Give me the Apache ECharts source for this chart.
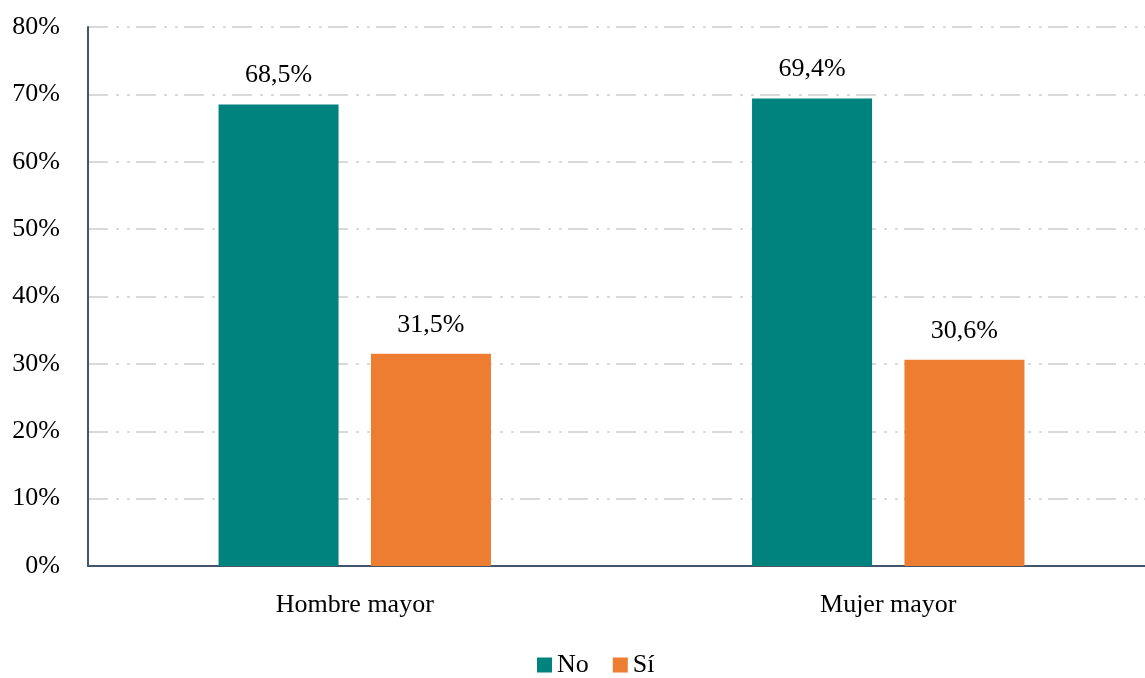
<!DOCTYPE html>
<html>
<head>
<meta charset="utf-8">
<script src="https://cdn.jsdelivr.net/npm/echarts@6/dist/echarts.min.js"></script>
<style>
  html, body { margin: 0; padding: 0; background: #fff; }
  #chart { width: 1145px; height: 678px; }
</style>
</head>
<body>
<div id="chart"></div>
<script>
const categories = ['Hombre mayor', 'Mujer mayor'];
const seriesNames = ['No', 'Sí'];
const noValues = [68.5, 69.4];
const siValues = [31.5, 30.6];
const yTicks = [0, 10, 20, 30, 40, 50, 60, 70, 80];

const font = '"Liberation Serif", "DejaVu Serif", serif';
const fs = 26;
const fmt = v => v.toFixed(1).replace('.', ',') + '%';

let chart = echarts.init(document.getElementById('chart'));
let option = {
  animation: false,
  textStyle: { fontFamily: font },
  color: ['#00827f', '#ed7d31'],
  grid: { left: 88, width: 1067, top: 27, bottom: 112, outerBoundsMode: 'none', containLabel: false },
  legend: {
    top: 647,
    left: 532,
    itemWidth: 15,
    itemHeight: 15,
    itemGap: 24,
    icon: 'rect',
    textStyle: { fontFamily: font, fontSize: fs, color: '#000' },
    data: seriesNames
  },
  xAxis: {
    type: 'category',
    data: categories,
    axisLine: { lineStyle: { color: '#44546a', width: 2 } },
    axisTick: { show: false },
    axisLabel: { fontFamily: font, fontSize: fs, color: '#000', margin: 26 }
  },
  yAxis: {
    type: 'value',
    min: yTicks[0],
    max: yTicks[yTicks.length - 1],
    interval: 10,
    axisLine: { show: true, lineStyle: { color: '#44546a', width: 2 } },
    axisTick: { show: false },
    axisLabel: { fontFamily: font, fontSize: fs, color: '#000', margin: 28, formatter: '{value}%' },
    splitLine: {
      lineStyle: { color: '#d9d9d9', width: 2, type: [20, 8, 3, 8, 3, 6] }
    }
  },
  series: [
    {
      name: seriesNames[0],
      type: 'bar',
      data: noValues,
      barWidth: 120,
      barGap: '27%',
      label: { show: true, position: 'top', distance: 16, fontFamily: font, fontSize: fs, color: '#000', formatter: p => fmt(p.value) }
    },
    {
      name: seriesNames[1],
      type: 'bar',
      data: siValues,
      barWidth: 120,
      barGap: '27%',
      label: { show: true, position: 'top', distance: 16, fontFamily: font, fontSize: fs, color: '#000', formatter: p => fmt(p.value) }
    }
  ]
};

chart.setOption(option);
window.addEventListener('resize', function () {
  chart.resize();
});
</script>
</body>
</html>
